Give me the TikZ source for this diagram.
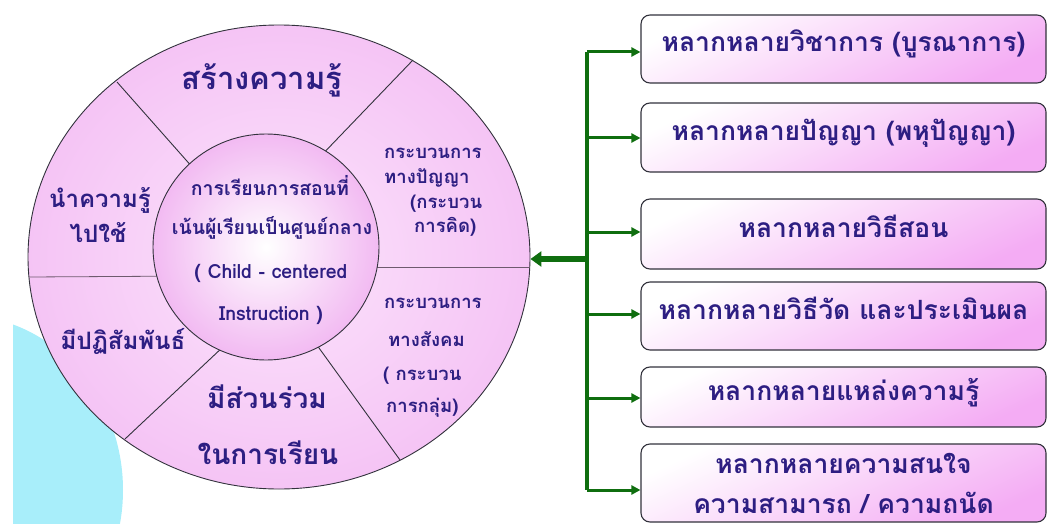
\documentclass[tikz,border=0pt]{standalone}
\usepackage{fontspec}
\newfontfamily\thaifont[Script=Thai]{Loma}
\usetikzlibrary{arrows.meta,shapes.geometric}
\definecolor{ringpink}{RGB}{245,196,245}
\definecolor{ringlight}{RGB}{252,228,252}
\definecolor{innerpink}{RGB}{242,186,242}
\definecolor{boxpink}{RGB}{244,172,244}
\definecolor{txt}{RGB}{45,30,130}
\definecolor{grn}{RGB}{15,110,15}
\definecolor{cyanc}{RGB}{168,238,250}
\definecolor{edge}{RGB}{50,50,60}
\definecolor{divgray}{RGB}{110,90,110}
\tikzset{
  ringbig/.style={font=\thaifont\bfseries\fontsize{31}{36}\selectfont, text=txt, anchor=base, inner sep=0pt},
  ringbot/.style={font=\thaifont\bfseries\fontsize{28}{34}\selectfont, text=txt, anchor=base, inner sep=0pt},
  ringmid/.style={font=\thaifont\bfseries\fontsize{24}{30}\selectfont, text=txt, anchor=base, inner sep=0pt},
  ringsmall/.style={font=\thaifont\bfseries\fontsize{18.5}{24}\selectfont, text=txt, anchor=base west, inner sep=0pt},
  innertxt/.style={font=\thaifont\bfseries\fontsize{19.5}{25}\selectfont, text=txt, anchor=base, inner sep=0pt},
  divline/.style={draw=edge, line width=0.9pt},
  hline/.style={draw=divgray, line width=0.8pt},
  optbox/.style={draw=edge, line width=1.1pt, rounded corners=9pt, minimum width=405pt,
    top color=white, bottom color=boxpink, shading angle=25,
    font=\thaifont\bfseries\fontsize{26.5}{40}\selectfont, text=txt, text height=0.8em, text depth=0.2em, inner sep=0pt},
  trunk/.style={draw=grn, line width=3.4pt},
  branch/.style={draw=grn, line width=3pt, -{Triangle[length=9pt,width=9pt]}},
  mainarrow/.style={draw=grn, line width=6pt, -{Triangle[length=11pt,width=15pt]}}
}
\begin{document}
\begin{tikzpicture}[x=1pt,y=-1pt]
\useasboundingbox (0,0) rectangle (1049,524);
% cyan background shape
\begin{scope}
  \clip (13,300) rectangle (200,524);
  \fill[cyanc] (-40,490) ellipse [x radius=163, y radius=175];
\end{scope}
% outer ring
\node[ellipse, draw=edge, line width=0.9pt, minimum width=502pt, minimum height=464pt,
      inner color=ringlight, outer color=ringpink] (outer) at (279,257) {};
% dividing lines
\draw[hline] (29,277) -- (200,276);
\draw[hline] (330,267) -- (530,267);
\draw[divline] (117,82) -- (209,186);
\draw[divline] (413,60) -- (316,161);
\draw[divline] (125,439) -- (241,330);
\draw[divline] (400,460) -- (306,330);
% inner circle
\node[circle, draw=edge, line width=0.9pt, minimum size=226pt,
      inner color=white, outer color=innerpink] (inner) at (266,247) {};
% ring texts
\node[ringbig] (top) at (262,90) {สร้างความรู้};
\node[ringmid] (ul1) at (100,207) {นำความรู้};
\node[ringmid] (ul2) at (98,242) {ไปใช้};
\node[ringmid] (ll) at (123,349) {มีปฏิสัมพันธ์};
\node[ringbot] (bt1) at (267,408) {มีส่วนร่วม};
\node[ringbot] (bt2) at (268,464) {ในการเรียน};
\node[ringsmall] (ur1) at (384,158) {กระบวนการ};
\node[ringsmall] (ur2) at (384,183) {ทางปัญญา};
\node[ringsmall] (ur3) at (410,208) {(กระบวน};
\node[ringsmall] (ur4) at (414,232) {การคิด)};
\node[ringsmall] (lr1) at (384,308) {กระบวนการ};
\node[ringsmall] (lr2) at (388,346) {ทางสังคม};
\node[ringsmall] (lr3) at (383,380) {( กระบวน};
\node[ringsmall] (lr4) at (386,412) {การกลุ่ม)};
% inner texts
\node[innertxt] (c1) at (270,195) {การเรียนการสอนที่};
\node[innertxt] (c2) at (272,234) {เน้นผู้เรียนเป็นศูนย์กลาง};
\node[innertxt] (c3) at (271,278) {( Child - centered};
\node[innertxt] (c4) at (271,320) {Instruction )};
% boxes
\node[optbox, minimum height=68pt] (b1) at (843.5,49) {หลากหลายวิชาการ (บูรณาการ)};
\node[optbox, minimum height=69pt] (b2) at (843.5,137.5) {หลากหลายปัญญา (พหุปัญญา)};
\node[optbox, minimum height=70pt] (b3) at (843.5,234) {หลากหลายวิธีสอน};
\node[optbox, minimum height=68pt] (b4) at (843.5,316) {หลากหลายวิธีวัด และประเมินผล};
\node[optbox, minimum height=60pt] (b5) at (843.5,397) {หลากหลายแหล่งความรู้};
\node[optbox, minimum height=78pt, align=center, text height=, text depth=] (b6) at (843.5,483) {หลากหลายความสนใจ\\ความสามารถ / ความถนัด};
% connectors
\coordinate (j1) at (587,52);
\coordinate (j2) at (587,138);
\coordinate (j3) at (587,232);
\coordinate (j4) at (587,314);
\coordinate (j5) at (587,398);
\coordinate (j6) at (587,490);
\coordinate (hub) at (588,259);
\draw[trunk] (j1) -- (j6);
\draw[branch] (j1) -- (j1 -| b1.west);
\draw[branch] (j2) -- (j2 -| b2.west);
\draw[branch] (j3) -- (j3 -| b3.west);
\draw[branch] (j4) -- (j4 -| b4.west);
\draw[branch] (j5) -- (j5 -| b5.west);
\draw[branch] (j6) -- (j6 -| b6.west);
\draw[mainarrow] (hub) -- (hub -| outer.east);
\end{tikzpicture}
\end{document}
